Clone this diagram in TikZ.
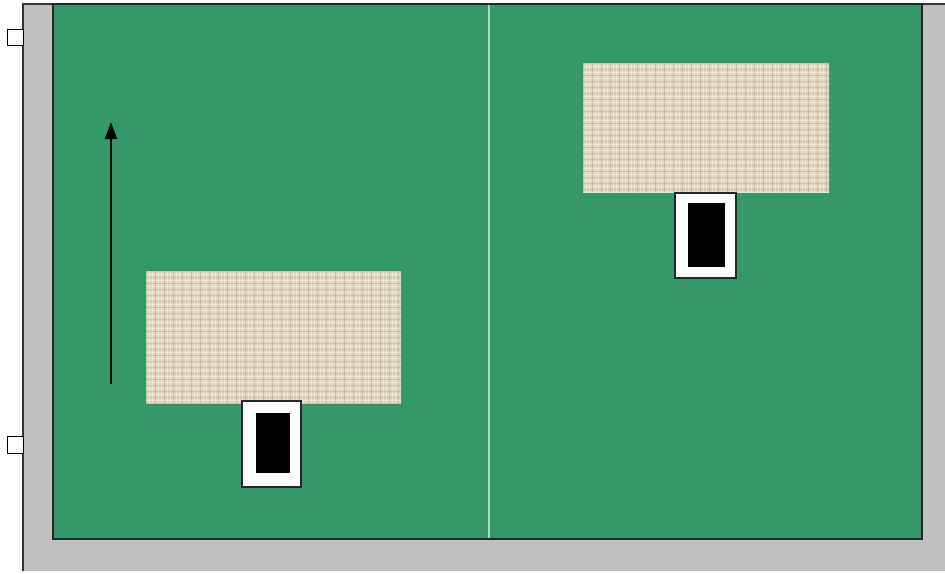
\documentclass[tikz,border=0pt]{standalone}
\usetikzlibrary{arrows.meta}
\definecolor{fieldgreen}{RGB}{53,152,104}
\definecolor{framegray}{RGB}{192,192,192}
\definecolor{burlap}{RGB}{224,214,192}
\definecolor{burlapdark}{RGB}{196,183,156}
\definecolor{burlaplight}{RGB}{240,234,220}
\definecolor{divider}{RGB}{175,215,195}
\tikzset{
  field/.style={fill=fieldgreen, draw=black!85, line width=1.8pt},
  tab/.style={fill=white, draw=black, line width=1pt},
  holder/.style={fill=white, draw=black!85, line width=1.4pt},
  core/.style={fill=black, draw=none},
  cloth/.style={fill=burlap, draw=none},
  motion/.style={-{Triangle[length=17pt,width=12pt]}, line width=1.8pt},
}
\begin{document}
\begin{tikzpicture}[x=1pt,y=-1pt]
\useasboundingbox[fill=white] (0,0) rectangle (945,573);
% outer gray frame
\fill[framegray] (23,4) rectangle (945,571);
\draw[black!80, line width=1.4pt] (23,571) -- (23,4) -- (945,4);
% side tabs
\draw[tab] (7,29) rectangle (23,45);
\draw[tab] (7,436) rectangle (23,453);
% green field
\draw[field] (53,4) rectangle (922,539);
\coordinate (divtop) at (489,5);
\coordinate (divbot) at (489,538);
\draw[divider, line width=1.6pt] (divtop) -- (divbot);
% cloth left
\fill[cloth] (146,271) rectangle (401,404);
\begin{scope}
\clip (146,271) rectangle (401,404);
\foreach \i in {0,...,85}{
  \pgfmathsetmacro{\xx}{146+3*\i}
  \pgfmathparse{mod(\i,3)==0 ? "burlapdark" : "burlaplight"}
  \draw[\pgfmathresult, line width=0.7pt, opacity=0.75] (\xx,271) -- (\xx,404);
}
\foreach \j in {0,...,45}{
  \pgfmathsetmacro{\yy}{271+3*\j}
  \pgfmathparse{mod(\j,2)==0 ? "burlapdark" : "burlaplight"}
  \draw[\pgfmathresult, line width=0.7pt, opacity=0.65] (146,\yy) -- (401,\yy);
}
\end{scope}
% cloth right
\fill[cloth] (583,63) rectangle (829,193);
\begin{scope}
\clip (583,63) rectangle (829,193);
\foreach \i in {0,...,83}{
  \pgfmathsetmacro{\xx}{583+3*\i}
  \pgfmathparse{mod(\i,3)==0 ? "burlapdark" : "burlaplight"}
  \draw[\pgfmathresult, line width=0.7pt, opacity=0.75] (\xx,63) -- (\xx,193);
}
\foreach \j in {0,...,44}{
  \pgfmathsetmacro{\yy}{63+3*\j}
  \pgfmathparse{mod(\j,2)==0 ? "burlapdark" : "burlaplight"}
  \draw[\pgfmathresult, line width=0.7pt, opacity=0.65] (583,\yy) -- (829,\yy);
}
\end{scope}
% holders
\draw[holder] (242,401) rectangle (301,487);
\fill[core] (256,413) rectangle (290,473);
\draw[holder] (675,193) rectangle (736,278);
\fill[core] (688,203) rectangle (725,267);
% arrow
\coordinate (arrS) at (111,384);
\coordinate (arrE) at (111,122);
\draw[motion] (arrS) -- (arrE);
\end{tikzpicture}
\end{document}
